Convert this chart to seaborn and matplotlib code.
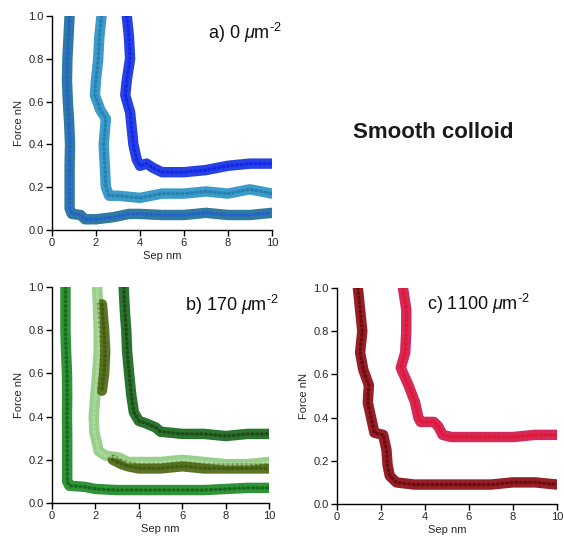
import matplotlib
matplotlib.use("Agg")
import matplotlib.pyplot as plt
import seaborn as sns
import pandas as pd

# ---------------- data ----------------
# Panel a) 0 um^-2
a1_sep   = [0.80, 0.75, 0.70, 0.68, 0.72, 0.78, 0.82, 0.80, 0.80, 0.80, 0.90, 1.30, 1.50, 2.00, 2.80, 3.50, 4.0, 5.0, 6.0, 7.0, 8.0, 9.0, 10.0]
a1_force = [1.00, 0.90, 0.80, 0.70, 0.60, 0.50, 0.40, 0.30, 0.20, 0.10, 0.075, 0.07, 0.05, 0.05, 0.06, 0.075, 0.075, 0.07, 0.07, 0.08, 0.07, 0.07, 0.08]
a2_sep   = [2.25, 2.15, 2.10, 2.00, 1.95, 2.20, 2.45, 2.35, 2.40, 2.45, 2.60, 3.0, 4.0, 5.0, 6.0, 7.0, 8.0, 9.0, 10.0]
a2_force = [1.00, 0.90, 0.80, 0.70, 0.63, 0.56, 0.52, 0.40, 0.30, 0.20, 0.16, 0.16, 0.15, 0.17, 0.17, 0.18, 0.17, 0.19, 0.17]
a3_sep   = [3.40, 3.50, 3.55, 3.40, 3.33, 3.55, 3.65, 3.70, 3.85, 4.00, 4.30, 4.60, 5.0, 6.0, 7.0, 8.0, 9.0, 10.0]
a3_force = [1.00, 0.90, 0.80, 0.70, 0.63, 0.55, 0.45, 0.40, 0.33, 0.30, 0.31, 0.29, 0.27, 0.27, 0.28, 0.30, 0.31, 0.31]

# Panel b) 170 um^-2
b1_sep   = [0.62, 0.62, 0.62, 0.65, 0.69, 0.70, 0.69, 0.70, 0.70, 0.70, 0.80, 1.50, 2.0, 3.0, 4.0, 5.0, 6.0, 7.0, 8.0, 9.0, 10.0]
b1_force = [1.00, 0.90, 0.80, 0.70, 0.60, 0.50, 0.40, 0.30, 0.20, 0.10, 0.08, 0.075, 0.065, 0.06, 0.06, 0.06, 0.06, 0.06, 0.065, 0.07, 0.07]
b2_sep   = [2.08, 2.12, 2.15, 2.15, 2.08, 2.00, 1.92, 1.95, 2.15, 2.46, 3.10, 3.50, 4.0, 5.0, 6.0, 7.0, 8.0, 9.0, 10.0]
b2_force = [1.00, 0.90, 0.80, 0.70, 0.60, 0.50, 0.40, 0.33, 0.24, 0.22, 0.21, 0.19, 0.19, 0.19, 0.20, 0.19, 0.18, 0.18, 0.19]
b3_sep   = [2.30, 2.40, 2.45, 2.40, 2.30]
b3_force = [0.92, 0.80, 0.70, 0.60, 0.52]
b4_sep   = [2.80, 3.20, 3.50, 4.0, 5.0, 6.0, 7.0, 8.0, 9.0, 10.0]
b4_force = [0.20, 0.18, 0.17, 0.16, 0.16, 0.17, 0.16, 0.16, 0.16, 0.16]
b5_sep   = [3.30, 3.35, 3.38, 3.42, 3.46, 3.55, 3.65, 3.77, 4.00, 4.30, 4.77, 5.0, 6.0, 7.0, 8.0, 9.0, 10.0]
b5_force = [1.00, 0.90, 0.85, 0.80, 0.70, 0.60, 0.50, 0.42, 0.38, 0.37, 0.35, 0.33, 0.32, 0.32, 0.31, 0.32, 0.32]

# Panel c) 1100 um^-2
c1_sep   = [0.95, 1.05, 1.15, 1.05, 1.20, 1.45, 1.40, 1.55, 1.70, 2.10, 2.25, 2.30, 2.40, 2.70, 3.5, 4.0, 5.0, 6.0, 7.0, 8.0, 9.0, 10.0]
c1_force = [1.00, 0.90, 0.80, 0.70, 0.62, 0.55, 0.47, 0.40, 0.33, 0.32, 0.25, 0.18, 0.13, 0.10, 0.09, 0.09, 0.09, 0.09, 0.09, 0.10, 0.10, 0.09]
c2_sep   = [3.00, 3.15, 3.15, 3.10, 2.90, 3.25, 3.55, 3.70, 3.80, 4.40, 4.60, 4.80, 5.20, 6.0, 7.0, 8.0, 9.0, 10.0]
c2_force = [1.00, 0.90, 0.80, 0.70, 0.63, 0.55, 0.47, 0.40, 0.38, 0.38, 0.36, 0.32, 0.31, 0.31, 0.31, 0.31, 0.32, 0.32]

a_colors = ["#1d6f97", "#2c93c8", "#1432de"]
a_dots   = ["#1f55ee", "#1c76a2", "#0a1cf5"]
b_colors = ["#1f8a26", "#90cb80", "#4d6813", "#4d6813", "#17681d"]
b_dots   = ["#0b5a13", "#b4dca6", "#3a520e", "#3a520e", "#1e3a10"]
c_colors = ["#8c0c13", "#d2164b"]
c_dots   = ["#5c0407", "#e8101c"]

labels = [r"a) 0 $\mu$m$^{\text{-}2}$", r"b) 170 $\mu$m$^{\text{-}2}$", r"c) 1100 $\mu$m$^{\text{-}2}$"]
label_pos = [(1.045, 0.975), (1.046, 0.975), (0.877, 0.98)]
x_ticks = [0, 2, 4, 6, 8, 10]
y_ticks = [0.0, 0.2, 0.4, 0.6, 0.8, 1.0]

# ---------------- style ----------------
sns.set_theme(style="ticks")
plt.rcParams["font.family"] = ["Liberation Sans", "DejaVu Sans"]
plt.rcParams["mathtext.fontset"] = "custom"
plt.rcParams["mathtext.rm"] = "Liberation Sans"
plt.rcParams["mathtext.it"] = "Liberation Sans:italic"

fig = plt.figure(figsize=(5.64, 5.41), dpi=100)
ax_a = fig.add_axes([0.0922, 0.5749, 0.390, 0.3956])
ax_b = fig.add_axes([0.0922, 0.0702, 0.385, 0.3993])
ax_c = fig.add_axes([0.5975, 0.0684, 0.390, 0.3993])


def build(traces):
    frames = []
    for i, (s, f) in enumerate(traces):
        frames.append(pd.DataFrame({"sep": s, "force": f, "trace": i}))
    return pd.concat(frames, ignore_index=True)


panels = [
    (ax_a, build([(a1_sep, a1_force), (a2_sep, a2_force), (a3_sep, a3_force)]), a_colors, a_dots),
    (ax_b, build([(b1_sep, b1_force), (b2_sep, b2_force), (b3_sep, b3_force),
                  (b4_sep, b4_force), (b5_sep, b5_force)]), b_colors, b_dots),
    (ax_c, build([(c1_sep, c1_force), (c2_sep, c2_force)]), c_colors, c_dots),
]

for (ax, df, cols, dots), lab, (lx, ly) in zip(panels, labels, label_pos):
    sns.lineplot(data=df, x="sep", y="force", hue="trace", palette=cols,
                 units="trace", estimator=None, sort=False, lw=7.5, alpha=0.92,
                 legend=False, ax=ax, solid_capstyle="round", solid_joinstyle="round")
    sns.lineplot(data=df, x="sep", y="force", hue="trace", palette=dots,
                 units="trace", estimator=None, sort=False, lw=2.4, alpha=0.7,
                 legend=False, ax=ax, dashes=False, linestyle=(0, (0.3, 1.1)),
                 dash_capstyle="round")
    ax.set_xlim(0, 10)
    ax.set_ylim(0, 1)
    ax.set_xticks(x_ticks)
    ax.set_xticklabels([str(t) for t in x_ticks])
    ax.set_yticks(y_ticks)
    ax.set_yticklabels([f"{t:.1f}" for t in y_ticks])
    ax.set_xlabel("Sep nm", fontsize=8, labelpad=2)
    ax.set_ylabel("Force nN", fontsize=8, labelpad=3)
    ax.tick_params(axis="both", labelsize=8, length=4, width=1, pad=2, color="black")
    for sp in ["top", "right"]:
        ax.spines[sp].set_visible(False)
    for sp in ["left", "bottom"]:
        ax.spines[sp].set_color("black")
        ax.spines[sp].set_linewidth(1)
    ax.text(lx, ly, lab, transform=ax.transAxes, ha="right", va="top",
            fontsize=13, color="#111111")

fig.text(0.768, 0.755, "Smooth colloid", ha="center", va="center",
         fontsize=16, fontweight="bold", color="#1a1a1a")

fig.savefig("out.png", dpi=100)
